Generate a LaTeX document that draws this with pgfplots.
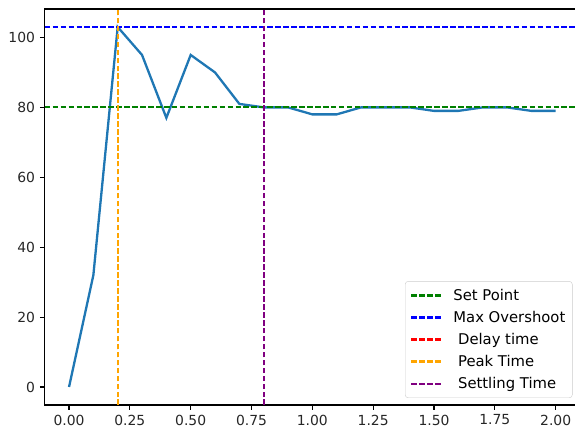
\documentclass[border=0pt]{standalone}
\usepackage{pgfplots}
\pgfplotsset{compat=1.18}
\usepackage{fontspec}
\setmainfont{DejaVu Sans}
\usetikzlibrary{calc}
\definecolor{tabblue}{HTML}{1F77B4}
\definecolor{mplgreen}{HTML}{008000}
\definecolor{mplblue}{HTML}{0000FF}
\definecolor{mplred}{HTML}{FF0000}
\definecolor{mplorange}{HTML}{FFA500}
\definecolor{mplpurple}{HTML}{800080}
\begin{document}
\fontsize{13.9pt}{16pt}\selectfont
\begin{tikzpicture}
\begin{axis}[name=ax, scale only axis, width=535.3pt, height=396pt,
  xmin=-0.1, xmax=2.1, ymin=-5.15, ymax=108.15,
  xtick={0,0.25,0.5,0.75,1,1.25,1.5,1.75,2},
  ytick={0,20,40,60,80,100},
  xticklabel style={/pgf/number format/.cd, fixed, fixed zerofill, precision=2},
  /pgf/number format/assume math mode=true,
  tick label style={font=\fontsize{13.9pt}{16pt}\selectfont, black!85},
  tick align=outside, tick pos=left, major tick length=4.9pt,
  every tick/.style={black, line width=1.1pt},
  axis line style={line width=1.1pt, black},
  legend cell align=left,
  legend style={at={(0.986,0.0177)}, anchor=south east, rounded corners=3pt,
    draw=black!20, fill=white, fill opacity=0.8, text opacity=1,
    font=\fontsize{14.8pt}{17pt}\selectfont, row sep=4.7pt, column sep=9pt,
    inner xsep=5pt, inner ysep=5.5pt},
  legend image code/.code={\draw[#1] (-2pt,0pt) -- (28pt,0pt);},
  dline/.style={line width=2.2pt, dash pattern=on 5.55pt off 2.4pt},
]
\addplot[tabblue, line width=2.3pt, forget plot] coordinates {
(0,0) (0.1,32) (0.2,103) (0.3,95) (0.4,77) (0.5,95) (0.6,90) (0.7,81)
(0.8,80) (0.9,80) (1.0,78) (1.1,78) (1.2,80) (1.3,80) (1.4,80) (1.5,79)
(1.6,79) (1.7,80) (1.8,80) (1.9,79) (2.0,79)};
\addplot[mplgreen, dline] coordinates {(-0.1,80) (2.1,80)};
\addlegendentry{Set Point}
\addplot[mplblue, dline] coordinates {(-0.1,103) (2.1,103)};
\addlegendentry{Max Overshoot}
\addplot[mplred, dline] coordinates {(0.2,-5.15) (0.2,108.15)};
\addlegendentry{\ Delay time}
\addplot[mplorange, dline] coordinates {(0.2,-5.15) (0.2,108.15)};
\addlegendentry{\ Peak Time}
\addplot[mplpurple, dline] coordinates {(0.8,-5.15) (0.8,108.15)};
\addlegendentry{\ Settling Time}
\end{axis}
\pgfresetboundingbox
\path[use as bounding box] ($(ax.south west)+(-44.7pt,-29pt)$) rectangle ++(575pt,434pt);
\end{tikzpicture}
\end{document}
